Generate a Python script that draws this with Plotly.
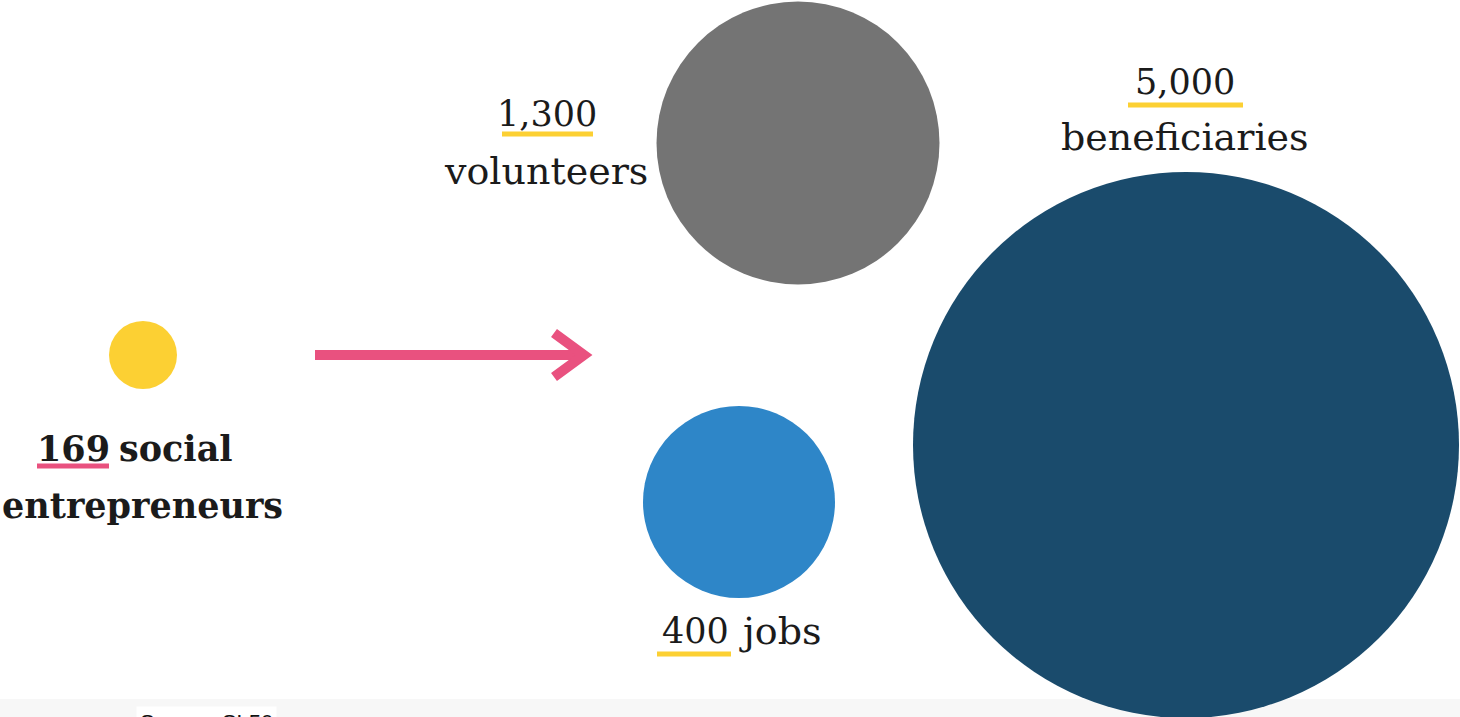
import plotly.graph_objects as go

# ---- data ----
categories = ["social entrepreneurs", "volunteers", "jobs", "beneficiaries"]
values = [169, 1300, 400, 5000]
value_labels = ["169", "1,300", "400", "5,000"]
source_text = "Source: SL50"

# ---- layout / style (pixel space) ----
W, H = 1460, 717
centers_x = [143, 798, 739, 1186]
centers_y = [355, 143, 502, 445]
diameters = [68, 283, 192, 546]
colors = ["#FCD033", "#747474", "#2E86C8", "#1A4B6C"]
FONT = "DejaVu Serif"
TXT = "#1b1b1b"
YEL = "#FCD033"
PINK = "#E9517F"

fig = go.Figure()
fig.add_trace(go.Scatter(
    x=centers_x, y=centers_y, mode="markers",
    marker=dict(size=diameters, sizemode="diameter", color=colors, line=dict(width=0), opacity=1),
    text=[f"{v} {c}" for v, c in zip(value_labels, categories)], hoverinfo="text",
    showlegend=False,
))

# arrow
fig.add_trace(go.Scatter(x=[315, 582], y=[355, 355], mode="lines",
                         line=dict(color=PINK, width=10), hoverinfo="skip", showlegend=False))
fig.add_trace(go.Scatter(x=[554, 584, 554], y=[333, 355, 377], mode="lines",
                         line=dict(color=PINK, width=10), hoverinfo="skip", showlegend=False))

ann = []
def txt(x, y, s, size=38, bold=False, xanchor="center"):
    ann.append(dict(x=x, y=y, xref="x", yref="y", text=f"<b>{s}</b>" if bold else s,
                    showarrow=False, xanchor=xanchor, yanchor="middle",
                    font=dict(family=FONT, size=size, color=TXT)))

NUM = 35
# social entrepreneurs
txt(73, 448, value_labels[0], size=35, bold=True)
txt(117, 448, categories[0].split()[0], size=35, bold=True, xanchor="left")
txt(142, 505, categories[0].split()[1], size=35, bold=True)
# volunteers
txt(547, 114, value_labels[1], size=NUM)
txt(546, 171, categories[1])
# beneficiaries
txt(1185, 82, value_labels[3], size=NUM)
txt(1185, 137, categories[3])
# jobs
txt(695, 631, value_labels[2], size=NUM)
txt(737, 631, categories[2], xanchor="left")

# source note (cut off at bottom, as in the reference)
ann.append(dict(x=136, y=717, xref="x", yref="y", text=source_text, showarrow=False,
                xanchor="left", yanchor="top", yshift=11,
                font=dict(family="Arial", size=22, color="#111"), bgcolor="white", borderpad=3))

shapes = [
    dict(type="rect", xref="x", yref="y", x0=0, x1=W, y0=699, y1=H, fillcolor="#f7f7f7",
         line=dict(width=0), layer="below"),
    dict(type="line", xref="x", yref="y", x0=37, x1=109, y0=466, y1=466, line=dict(color=PINK, width=5)),
    dict(type="line", xref="x", yref="y", x0=502, x1=593, y0=134, y1=134, line=dict(color=YEL, width=5)),
    dict(type="line", xref="x", yref="y", x0=1128, x1=1243, y0=105, y1=105, line=dict(color=YEL, width=5)),
    dict(type="line", xref="x", yref="y", x0=657, x1=731, y0=654, y1=654, line=dict(color=YEL, width=5)),
]

fig.update_layout(
    width=W, height=H, margin=dict(l=0, r=0, t=0, b=0),
    paper_bgcolor="white", plot_bgcolor="rgba(0,0,0,0)",
    xaxis=dict(range=[0, W], visible=False, fixedrange=True),
    yaxis=dict(range=[H, 0], visible=False, fixedrange=True),
    annotations=ann, shapes=shapes,
)
fig.write_html("out.html", config={"displayModeBar": False})
